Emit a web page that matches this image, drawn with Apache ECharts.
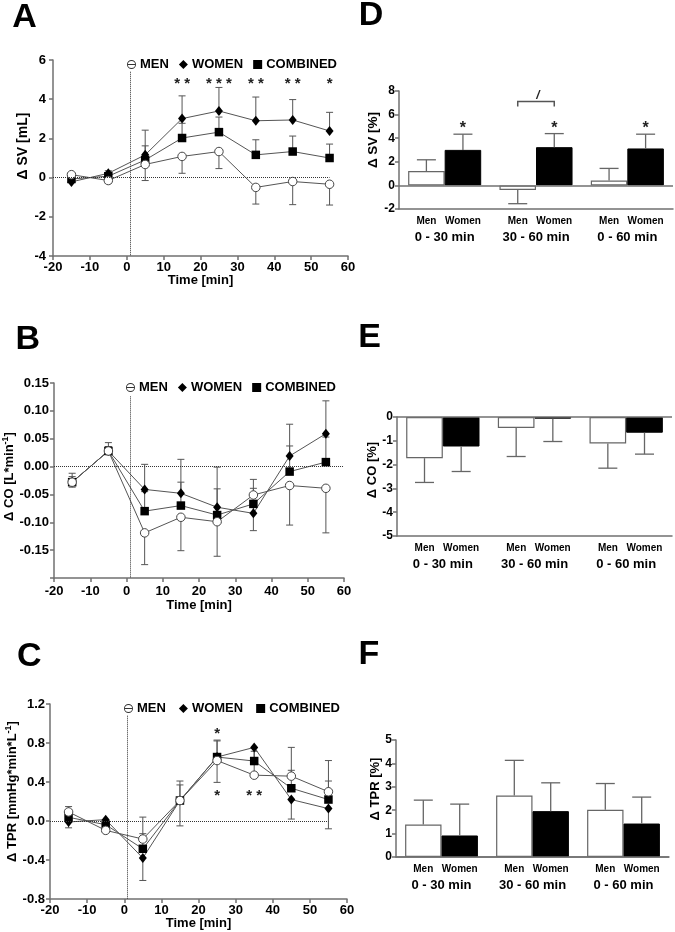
<!DOCTYPE html>
<html><head><meta charset="utf-8">
<script src="https://cdn.jsdelivr.net/npm/echarts@6/dist/echarts.min.js"></script>
<style>html,body{margin:0;padding:0;background:#fff}#c{width:675px;height:932px}</style>
</head><body><div id="c"></div>
<script>
// ---------- data ----------
const times = [-15, -5, 5, 15, 25, 35, 45, 55];
const timeTicks = [-20, -10, 0, 10, 20, 30, 40, 50, 60];

// Panel A: delta SV [mL]
const svMen = [0.15, -0.15, 0.67, 1.08, 1.33, -0.50, -0.20, -0.34];
const svMenErr = [0.10, 0.15, 0.82, 0.86, 0.87, 0.85, 1.18, 1.06];      // drawn downward
const svWomen = [-0.22, 0.22, 1.16, 3.01, 3.40, 2.90, 2.94, 2.38];
const svWomenErr = [0.10, 0.13, 1.26, 1.16, 1.20, 1.21, 1.04, 0.95];    // drawn upward
const svComb = [-0.07, 0.07, 0.90, 2.02, 2.32, 1.16, 1.33, 1.00];
const svCombErr = [0.08, 0.10, 0.72, 0.75, 0.77, 0.77, 0.79, 0.71];     // drawn upward
const svSigTimes = [15, 25, 35, 45, 55];
const svSig = ['* *', '* * *', '* *', '* *', '*'];

// Panel B: delta CO [L*min-1]
const coMen = [-0.028, 0.028, -0.119, -0.091, -0.099, -0.051, -0.034, -0.039];
const coMenErr = [0.009, 0.006, 0.057, 0.060, 0.062, 0.064, 0.071, 0.080];
const coWomen = [-0.028, 0.028, -0.041, -0.048, -0.073, -0.084, 0.019, 0.059];
const coWomenErr = [0.016, 0.015, 0.045, 0.061, 0.072, 0.045, 0.057, 0.059];
const coComb = [-0.028, 0.028, -0.080, -0.070, -0.087, -0.067, -0.009, 0.008];
const coCombErr = [0.010, 0.008, 0.035, 0.042, 0.047, 0.044, 0.046, 0.045];

// Panel C: delta TPR [mmHg*min*L-1]
const tprMen = [0.093, -0.096, -0.185, 0.21, 0.62, 0.47, 0.46, 0.30];
const tprMenErr = [0.055, 0.02, 0.225, 0.20, 0.21, 0.12, 0.295, 0.32];   // upward
const tprWomen = [-0.01, 0.014, -0.38, 0.21, 0.656, 0.755, 0.22, 0.127];
const tprWomenErr = [0.06, 0.02, 0.23, 0.26, 0.26, 0.12, 0.20, 0.207];   // downward
const tprComb = [0.038, -0.038, -0.285, 0.21, 0.656, 0.615, 0.336, 0.22];
const tprCombErr = [0.03, 0.02, 0.155, 0.16, 0.165, 0.10, 0.184, 0.19];  // upward
const tprSigAboveTimes = [25];
const tprSigAbove = ['*'];
const tprSigBelowTimes = [25, 35];
const tprSigBelow = ['*', '* *'];

// Bar panels
const periods = ['0 - 30 min', '30 - 60 min', '0 - 60 min'];
const svPctMen = [1.21, -0.39, 0.42];
const svPctMenErr = [0.96, 1.16, 1.02];
const svPctWomen = [3.01, 3.24, 3.13];
const svPctWomenErr = [1.33, 1.15, 1.21];
const svPctSig = ['*', '*', '*'];
const coPctMen = [-1.73, -0.46, -1.11];
const coPctMenErr = [1.02, 1.20, 1.04];
const coPctWomen = [-1.24, -0.07, -0.66];
const coPctWomenErr = [1.05, 0.96, 0.90];
const tprPctMen = [1.39, 2.63, 2.02];
const tprPctMenErr = [1.04, 1.50, 1.12];
const tprPctWomen = [0.92, 1.96, 1.43];
const tprPctWomenErr = [1.34, 1.21, 1.13];

// ---------- styling helpers ----------
const FF = "'Liberation Sans', Arial, Helvetica, sans-serif";
const AX = '#707070';
const ERR = '#555';
const chart = echarts.init(document.getElementById('c'), null, {renderer: 'canvas'});

function errData(xs, vals, errs, dir) {
  return xs.map((x, i) => [x, vals[i], vals[i] + dir * errs[i]]);
}
function lineErrRender(params, api) {
  const p0 = api.coord([api.value(0), api.value(1)]);
  const p1 = api.coord([api.value(0), api.value(2)]);
  const w = 3.5;
  return {type: 'group', children: [
    {type: 'line', shape: {x1: p0[0], y1: p0[1], x2: p1[0], y2: p1[1]}, style: {stroke: ERR, lineWidth: 1}},
    {type: 'line', shape: {x1: p1[0] - w, y1: p1[1], x2: p1[0] + w, y2: p1[1]}, style: {stroke: ERR, lineWidth: 1}}
  ]};
}
function barErrRender(side) {
  return function (params, api) {
    const i = api.value(0);
    const p0 = api.coord([i, api.value(1)]);
    const p1 = api.coord([i, api.value(2)]);
    const band = api.size([1, 0])[0];
    const x = p0[0] + side * band * 0.2;
    const w = 9.5;
    return {type: 'group', children: [
      {type: 'line', shape: {x1: x, y1: p0[1], x2: x, y2: p1[1]}, style: {stroke: '#666', lineWidth: 1.3}},
      {type: 'line', shape: {x1: x - w, y1: p1[1], x2: x + w, y2: p1[1]}, style: {stroke: '#666', lineWidth: 1.3}}
    ]};
  };
}
function sigRender(texts, offsetFrac, size) {
  return function (params, api) {
    const p = api.coord([api.value(0), api.value(1)]);
    const dx = offsetFrac ? api.size([1, 0])[0] * offsetFrac : 0;
    return {type: 'text', x: p[0] + dx, y: p[1], style: {
      text: texts[params.dataIndex], fontSize: size || 15, fontFamily: FF, fontWeight: 'bold',
      fill: '#222', align: 'center', verticalAlign: 'middle'}};
  };
}

const menIcon = 'path://M10,0 A10,10 0 1,1 10,20 A10,10 0 1,1 10,0 Z M10,2 A8,8 0 1,0 10,18 A8,8 0 1,0 10,2 Z M2,9.1 H18 V10.9 H2 Z';
const legendData = [
  {name: 'MEN', icon: menIcon, itemStyle: {color: '#333', borderWidth: 0}},
  {name: 'WOMEN', icon: 'diamond', itemStyle: {color: '#000', borderWidth: 0}},
  {name: 'COMBINED', icon: 'rect', itemStyle: {color: '#000', borderWidth: 0}}
];
function legend(left, top, gap) {
  return {left: left, top: top, itemWidth: 9, itemHeight: 9, itemGap: gap, data: legendData,
    selectedMode: false, textStyle: {fontFamily: FF, fontWeight: 'bold', fontSize: 13, color: '#000', padding: [0, 0, 0, -1]}};
}

function timeAxis(gi, labelMargin, nameGap) {
  return {type: 'value', gridIndex: gi, min: -20, max: 60, interval: 10,
    name: 'Time [min]', nameLocation: 'middle', nameGap: nameGap,
    nameTextStyle: {fontFamily: FF, fontWeight: 'bold', fontSize: 13, color: '#000'},
    axisLine: {onZero: false, lineStyle: {color: AX, width: 1.5}},
    axisTick: {show: true, length: 4, lineStyle: {color: AX, width: 1.5}},
    axisLabel: {margin: labelMargin, fontFamily: FF, fontWeight: 'bold', fontSize: 13, color: '#000'},
    splitLine: {show: false}};
}
function valAxis(gi, min, max, interval, fmt, name, nameGap, shift, labelMargin, fontSize, rich, nameSize) {
  const ax = {type: 'value', gridIndex: gi, min: min, max: max, interval: interval,
    name: name, nameLocation: 'middle', nameGap: nameGap,
    nameTextStyle: {fontFamily: FF, fontWeight: 'bold', fontSize: nameSize || 13, color: '#000', padding: [0, 0, 0, shift]},
    axisLine: {show: true, onZero: false, lineStyle: {color: AX, width: 1.5}},
    axisTick: {show: true, length: 4, lineStyle: {color: AX, width: 1.5}},
    axisLabel: {margin: labelMargin, fontFamily: FF, fontWeight: 'bold', fontSize: fontSize, color: '#000', formatter: fmt},
    splitLine: {show: false}};
  if (rich) ax.nameTextStyle.rich = rich;
  return ax;
}
function catAxis(gi) {
  return {type: 'category', gridIndex: gi, data: periods,
    axisLine: {onZero: false, lineStyle: {color: AX, width: 1.5}},
    axisTick: {show: false},
    axisLabel: {interval: 0, margin: 5, color: '#000',
      formatter: v => '{m|Men}{w|Women}\n{r|' + v + '}',
      rich: {
        m: {width: 36.5, align: 'center', fontFamily: FF, fontWeight: 'bold', fontSize: 10, lineHeight: 14, color: '#000'},
        w: {width: 36.5, align: 'center', fontFamily: FF, fontWeight: 'bold', fontSize: 10, lineHeight: 14, color: '#000'},
        r: {fontFamily: FF, fontWeight: 'bold', fontSize: 13, lineHeight: 18, color: '#000'}
      }}};
}
const supRich = {
  t: {fontFamily: FF, fontWeight: 'bold', fontSize: 13, lineHeight: 16, color: '#000'},
  s: {fontFamily: FF, fontWeight: 'bold', fontSize: 9, lineHeight: 9, verticalAlign: 'top', color: '#000'}
};

function lineSeries(gi, men, menErr, menDir, women, womenErr, womenDir, comb, combErr, combDir, refLines) {
  const base = {xAxisIndex: gi, yAxisIndex: gi};
  const lineStyle = {color: '#555', width: 1};
  return [
    Object.assign({type: 'custom', name: 'errM' + gi, renderItem: lineErrRender, encode: {x: 0, y: [1, 2]}, z: 1,
      data: errData(times, men, menErr, menDir)}, base),
    Object.assign({type: 'custom', name: 'errW' + gi, renderItem: lineErrRender, encode: {x: 0, y: [1, 2]}, z: 1,
      data: errData(times, women, womenErr, womenDir)}, base),
    Object.assign({type: 'custom', name: 'errC' + gi, renderItem: lineErrRender, encode: {x: 0, y: [1, 2]}, z: 1,
      data: errData(times, comb, combErr, combDir)}, base),
    Object.assign({type: 'line', name: 'COMBINED', z: 3, symbol: 'rect', symbolSize: 8.5,
      itemStyle: {color: '#000'}, lineStyle: lineStyle,
      data: times.map((t, i) => [t, comb[i]]),
      markLine: {silent: true, symbol: 'none', label: {show: false}, animation: false,
        lineStyle: {type: 'dotted', color: '#333', width: 1}, data: refLines}}, base),
    Object.assign({type: 'line', name: 'WOMEN', z: 3, symbol: 'diamond', symbolSize: [8, 10],
      itemStyle: {color: '#000'}, lineStyle: lineStyle,
      data: times.map((t, i) => [t, women[i]])}, base),
    Object.assign({type: 'line', name: 'MEN', z: 3, symbol: 'circle', symbolSize: 8.5,
      itemStyle: {color: '#fff', borderColor: '#444', borderWidth: 1}, lineStyle: lineStyle,
      data: times.map((t, i) => [t, men[i]])}, base)
  ];
}
function barSeries(gi, men, menErr, women, womenErr) {
  const base = {xAxisIndex: gi, yAxisIndex: gi};
  const sgn = v => (v < 0 ? -1 : 1);
  return [
    Object.assign({type: 'bar', name: 'Men', data: men, barGap: '0%', barCategoryGap: '20%', z: 2,
      itemStyle: {color: '#fff', borderColor: '#666', borderWidth: 1.2},
      markLine: {silent: true, symbol: 'none', label: {show: false}, animation: false,
        lineStyle: {type: 'solid', color: AX, width: 1.5}, data: [{yAxis: 0}]}}, base),
    Object.assign({type: 'bar', name: 'Women', data: women, barGap: '0%', barCategoryGap: '20%', z: 2,
      itemStyle: {color: '#000', borderColor: '#000', borderWidth: 1}}, base),
    Object.assign({type: 'custom', renderItem: barErrRender(-1), encode: {x: 0, y: [1, 2]}, z: 3,
      data: men.map((v, i) => [i, v, v + sgn(v) * menErr[i]])}, base),
    Object.assign({type: 'custom', renderItem: barErrRender(1), encode: {x: 0, y: [1, 2]}, z: 3,
      data: women.map((v, i) => [i, v, v + sgn(v) * womenErr[i]])}, base)
  ];
}

const series = [].concat(
  lineSeries(0, svMen, svMenErr, -1, svWomen, svWomenErr, 1, svComb, svCombErr, 1,
    [[{coord: [-20, 0]}, {coord: [55, 0]}], [{coord: [1, 5.4]}, {coord: [1, -4]}]]),
  lineSeries(1, coMen, coMenErr, -1, coWomen, coWomenErr, 1, coComb, coCombErr, 1,
    [[{coord: [-20, 0]}, {coord: [60, 0]}], [{coord: [1, 0.126]}, {coord: [1, -0.2]}]]),
  lineSeries(2, tprMen, tprMenErr, 1, tprWomen, tprWomenErr, -1, tprComb, tprCombErr, 1,
    [[{coord: [-20, 0]}, {coord: [55, 0]}], [{coord: [0.7, 1.08]}, {coord: [0.7, -0.8]}]]),
  barSeries(3, svPctMen, svPctMenErr, svPctWomen, svPctWomenErr),
  barSeries(4, coPctMen, coPctMenErr, coPctWomen, coPctWomenErr),
  barSeries(5, tprPctMen, tprPctMenErr, tprPctWomen, tprPctWomenErr),
  [
    {type: 'custom', xAxisIndex: 0, yAxisIndex: 0, z: 4, renderItem: sigRender(svSig),
      data: svSigTimes.map(t => [t, 4.78])},
    {type: 'custom', xAxisIndex: 2, yAxisIndex: 2, z: 4, renderItem: sigRender(tprSigAbove),
      data: tprSigAboveTimes.map(t => [t, 0.89])},
    {type: 'custom', xAxisIndex: 2, yAxisIndex: 2, z: 4, renderItem: sigRender(tprSigBelow),
      data: tprSigBelowTimes.map(t => [t, 0.255])},
    {type: 'custom', xAxisIndex: 3, yAxisIndex: 3, z: 4, renderItem: sigRender(svPctSig, 0.2, 16),
      data: periods.map((p, i) => [i, 4.78])},
    {type: 'custom', xAxisIndex: 3, yAxisIndex: 3, z: 4, encode: {x: 0, y: [1, 2]},
      renderItem: function (params, api) {
        const top = api.coord([1, api.value(1)]);
        const bot = api.coord([1, api.value(2)]);
        const band = api.size([1, 0])[0];
        const xl = top[0] - band * 0.2, xr = top[0] + band * 0.2;
        return {type: 'group', children: [
          {type: 'polyline', shape: {points: [[xl, bot[1]], [xl, top[1]], [xr, top[1]], [xr, bot[1]]]},
            style: {stroke: '#555', lineWidth: 1.5, fill: null}},
          {type: 'text', x: top[0] + 2, y: top[1] - 6, style: {text: '/', fontSize: 12, fontFamily: FF,
            fontWeight: 'bold', fontStyle: 'italic', fill: '#222', align: 'center', verticalAlign: 'middle'}}
        ]};
      },
      data: [[1, 7.12, 6.69]]}
  ]
);

const option = {
  animation: false,
  backgroundColor: '#fff',
  textStyle: {fontFamily: FF},
  graphic: [
    {type: 'text', style: {text: 'A', x: 24.5, y: 17.5, font: 'bold 34px ' + FF, fill: '#000', align: 'center', verticalAlign: 'middle'}},
    {type: 'text', style: {text: 'B', x: 27.7, y: 339.5, font: 'bold 34px ' + FF, fill: '#000', align: 'center', verticalAlign: 'middle'}},
    {type: 'text', style: {text: 'C', x: 29.2, y: 656.5, font: 'bold 34px ' + FF, fill: '#000', align: 'center', verticalAlign: 'middle'}},
    {type: 'text', style: {text: 'D', x: 371, y: 15.5, font: 'bold 34px ' + FF, fill: '#000', align: 'center', verticalAlign: 'middle'}},
    {type: 'text', style: {text: 'E', x: 369.5, y: 337.5, font: 'bold 34px ' + FF, fill: '#000', align: 'center', verticalAlign: 'middle'}},
    {type: 'text', style: {text: 'F', x: 369, y: 654.5, font: 'bold 34px ' + FF, fill: '#000', align: 'center', verticalAlign: 'middle'}}
  ],
  legend: [legend(122, 53, 10), legend(121, 376, 10), legend(119, 697, 13)],
  grid: [
    {left: 53, top: 60, width: 295, height: 196},
    {left: 51, top: 383, width: 293, height: 195},
    {left: 50, top: 704, width: 297, height: 195},
    {left: 399, top: 91, width: 274, height: 118},
    {left: 397, top: 417, width: 275, height: 119},
    {left: 396, top: 740, width: 273, height: 117}
  ],
  xAxis: [
    timeAxis(0, 4.5, 16.5), timeAxis(1, 7, 19), timeAxis(2, 4.5, 18),
    catAxis(3), catAxis(4), catAxis(5)
  ],
  yAxis: [
    valAxis(0, -4, 6, 2, v => String(v), 'Δ SV [mL]', 14, 24, 7, 13, null, 14),
    valAxis(1, -0.2, 0.15, 0.05, v => (Math.abs(v + 0.2) < 1e-9 ? '' : v.toFixed(2)),
      '{t|Δ CO [L*min}{s|-1}{t|]}', 29, 8, 5, 13, supRich),
    valAxis(2, -0.8, 1.2, 0.4, v => v.toFixed(1),
      '{t|Δ TPR [mmHg*min*L}{s|-1}{t|]}', 26, 20, 5, 13, supRich),
    valAxis(3, -2, 8, 2, v => String(v), 'Δ SV [%]', 15, 20, 4, 12, null, 13.5),
    valAxis(4, -5, 0, 1, v => String(v), 'Δ CO [%]', 15.5, 13, 4, 12),
    valAxis(5, 0, 5, 1, v => String(v), 'Δ TPR [%]', 14.5, 19, 4, 12)
  ],
  series: series
};
chart.setOption(option);
</script>
</body></html>
